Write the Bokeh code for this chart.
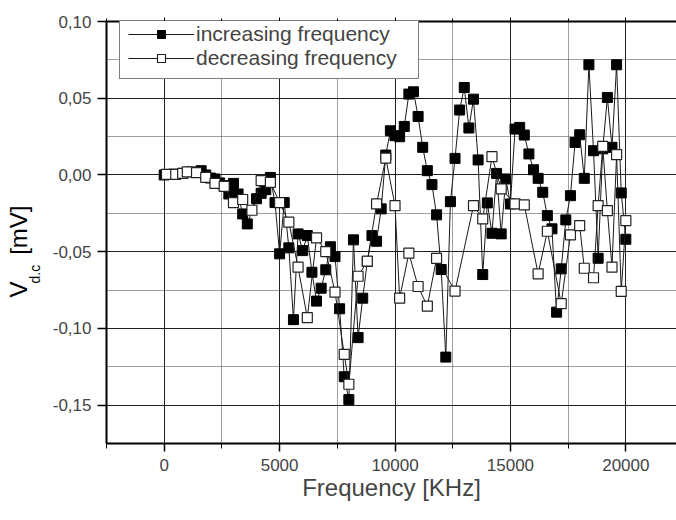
from bokeh.plotting import figure
from bokeh.models import (LinearAxis, SingleIntervalTicker, CustomJSTickFormatter,
                          Legend, LegendItem, Range1d, Title)
from bokeh.embed import file_html
from bokeh.resources import INLINE

# increasing frequency (filled squares)
inc_freq = [0, 400, 800, 1200, 1600, 1800, 2000, 2200, 2400, 2600, 2800, 3000, 3200, 3400, 3600,
            4000, 4200, 4400, 4600, 4800, 5000, 5200, 5400, 5600, 5800, 6000, 6200, 6400, 6600,
            6800, 7000, 7200, 7400, 7600, 7800, 8000, 8200, 8400, 8600, 8800, 9000, 9200, 9400,
            9600, 9800, 10000, 10200, 10400, 10600, 10800, 11000, 11200, 11400, 11600, 11800,
            12000, 12200, 12400, 12600, 12800, 13000, 13200, 13400, 13600, 13800, 14000, 14200,
            14400, 14600, 14800, 15000, 15200, 15400, 15600, 15800, 16000, 16200, 16400, 16600,
            16800, 17000, 17200, 17400, 17600, 17800, 18000, 18200, 18400, 18600, 18800, 19000,
            19200, 19400, 19600, 19800, 20000]
inc_v = [0.0, 0.0005, 0.001, 0.002, 0.0028, 0.0, -0.002, -0.0026, -0.0052, -0.007, -0.0124,
         -0.0055, -0.0124, -0.0254, -0.0319, -0.0155, -0.012, -0.0096, -0.0016, -0.018, -0.0514,
         -0.018, -0.0475, -0.0943, -0.0384, -0.0493, -0.0395, -0.0634, -0.0822, -0.0738, -0.0618,
         -0.0468, -0.0532, -0.0872, -0.1315, -0.1464, -0.0423, -0.106, -0.0803, -0.0564, -0.0395,
         -0.0432, -0.0221, 0.013, 0.0288, 0.0256, 0.0249, 0.0316, 0.0527, 0.0542, 0.0381, 0.018,
         0.0028, -0.0063, -0.026, -0.0616, -0.1187, -0.0174, 0.0108, 0.0423, 0.057, 0.0306,
         0.0494, 0.0098, -0.0649, -0.0182, -0.038, 0.001, -0.0384, -0.0026, -0.0189, 0.0299,
         0.031, 0.026, 0.0137, 0.0034, -0.0022, -0.0113, -0.0265, -0.0351, -0.0894, -0.0612,
         -0.0293, -0.0135, 0.0212, 0.0262, -0.0022, 0.0718, 0.0158, -0.0543, 0.017, 0.0505,
         0.018, 0.0718, -0.0117, -0.0419]

# decreasing frequency (open squares)
dec_freq = [100, 500, 800, 1000, 1400, 1800, 2200, 2600, 3000, 3400, 3800, 4200, 4600, 5000,
            5400, 5800, 6200, 6600, 7000, 7400, 7800, 8000, 8400, 8800, 9200, 9600, 10000, 10200,
            10600, 11000, 11400, 11800, 12600, 13400, 13800, 14200, 14600, 15200, 15600, 16200,
            16600, 17200, 17600, 18000, 18200, 18600, 18800, 19000, 19200, 19400, 19600, 19800,
            20000]
dec_v = [0.0004, 0.0004, 0.001, 0.002, 0.0015, -0.0016, -0.0055, -0.0075, -0.018, -0.016,
         -0.023, -0.0037, -0.0048, -0.018, -0.0308, -0.0601, -0.093, -0.041, -0.0499, -0.0764,
         -0.1169, -0.1364, -0.066, -0.0562, -0.0189, 0.011, -0.02, -0.0803, -0.051, -0.0727,
         -0.0855, -0.0543, -0.0757, -0.02, -0.0286, 0.0119, -0.0091, -0.0189, -0.0195, -0.0644,
         -0.0367, -0.0839, -0.039, -0.033, -0.0608, -0.067, -0.02, 0.0186, -0.0232, -0.0601,
         0.0132, -0.0759, -0.0297]

series_names = ["increasing frequency", "decreasing frequency"]
x_title = "Frequency [KHz]"
y_title_main = "V\u00a0\u00a0\u00a0\u00a0[mV]"
y_title_sub = "d.c"

FONT = "Liberation Sans"
W, H = 676, 520

p = figure(width=W, height=H, output_backend="svg", toolbar_location=None,
           x_range=Range1d(-2500, 22195), y_range=Range1d(-0.175, 0.10),
           min_border_left=106, min_border_right=0, min_border_top=21,
           min_border_bottom=77)
p.outline_line_color = None

xt = SingleIntervalTicker(interval=5000, num_minor_ticks=2)
yt = SingleIntervalTicker(interval=0.05, num_minor_ticks=2)
yfmt = CustomJSTickFormatter(code="""
    if (Math.abs(tick) < 1e-9) { return '0,00'; }
    return tick.toFixed(2).replace('.', ',');
""")

for ax in p.xaxis:
    ax.ticker = xt
    ax.axis_label = x_title
    ax.axis_label_text_font = FONT
    ax.axis_label_text_font_size = "24px"
    ax.axis_label_text_font_style = "normal"
    ax.axis_label_standoff = 0
    ax.major_label_text_font = FONT
    ax.major_label_text_font_size = "17px"
    ax.major_label_standoff = 7
    ax.major_tick_out = 8
    ax.major_tick_in = 0
    ax.minor_tick_out = 5
    ax.minor_tick_in = 0
    ax.axis_line_width = 2
    ax.axis_line_color = "black"
    ax.major_tick_line_color = "black"
    ax.minor_tick_line_color = "black"
    ax.major_tick_line_width = 1.5

for ax in p.yaxis:
    ax.ticker = yt
    ax.formatter = yfmt
    ax.major_label_text_font = FONT
    ax.major_label_text_font_size = "17px"
    ax.major_label_standoff = 6
    ax.major_tick_out = 9
    ax.major_tick_in = 0
    ax.minor_tick_out = 0
    ax.minor_tick_in = 0
    ax.axis_line_width = 2
    ax.axis_line_color = "black"
    ax.major_tick_line_color = "black"
    ax.major_tick_line_width = 1.5

top = LinearAxis(ticker=SingleIntervalTicker(interval=5000, num_minor_ticks=2))
top.major_label_text_font_size = "1px"
top.major_label_text_color = None
top.major_label_standoff = 0
top.major_tick_out = 4
top.major_tick_in = 0
top.minor_tick_out = 3
top.minor_tick_in = 0
top.axis_line_width = 2
top.axis_line_color = "black"
p.add_layout(top, "above")

p.xgrid.ticker = xt
p.ygrid.ticker = yt
for g in (p.xgrid[0], p.ygrid[0]):
    g.grid_line_color = "#202020"
    g.grid_line_width = 1
    g.grid_line_alpha = 1.0
    g.minor_grid_line_color = "#404040"
    g.minor_grid_line_dash = "1 1"
    g.minor_grid_line_width = 1

l1 = p.line(inc_freq, inc_v, line_color="#1a1a1a", line_width=1)
s1 = p.scatter(inc_freq, inc_v, marker="square", size=10, fill_color="black",
               line_color="black", line_width=1)
l2 = p.line(dec_freq, dec_v, line_color="#1a1a1a", line_width=1)
s2 = p.scatter(dec_freq, dec_v, marker="square", size=10, fill_color="white",
               line_color="#222222", line_width=1.2)

legend = Legend(items=[LegendItem(label=series_names[0], renderers=[l1, s1]),
                       LegendItem(label=series_names[1], renderers=[l2, s2])],
                location=(13, 364))
legend.label_text_font = FONT
legend.label_text_font_size = "21px"
legend.padding = 8
legend.spacing = 0
legend.margin = 0
legend.glyph_width = 66
legend.glyph_height = 20
legend.label_height = 20
legend.label_standoff = 2
legend.label_width = 214
legend.border_line_color = "black"
legend.border_line_width = 1
legend.background_fill_alpha = 1.0
p.add_layout(legend, "center")

# y-axis title: subscript column next to the tick labels, main text column further out
t_sub = Title(text=y_title_sub, align="left", offset=160, standoff=14,
              text_font=FONT, text_font_size="14px", text_font_style="normal",
              text_color="black")
t_main = Title(text=y_title_main, align="left", offset=146, standoff=-29,
               text_font=FONT, text_font_size="24px", text_font_style="normal",
               text_color="black")
p.add_layout(t_sub, "left")
p.add_layout(t_main, "left")

open("out.html", "w").write(file_html(p, INLINE))
